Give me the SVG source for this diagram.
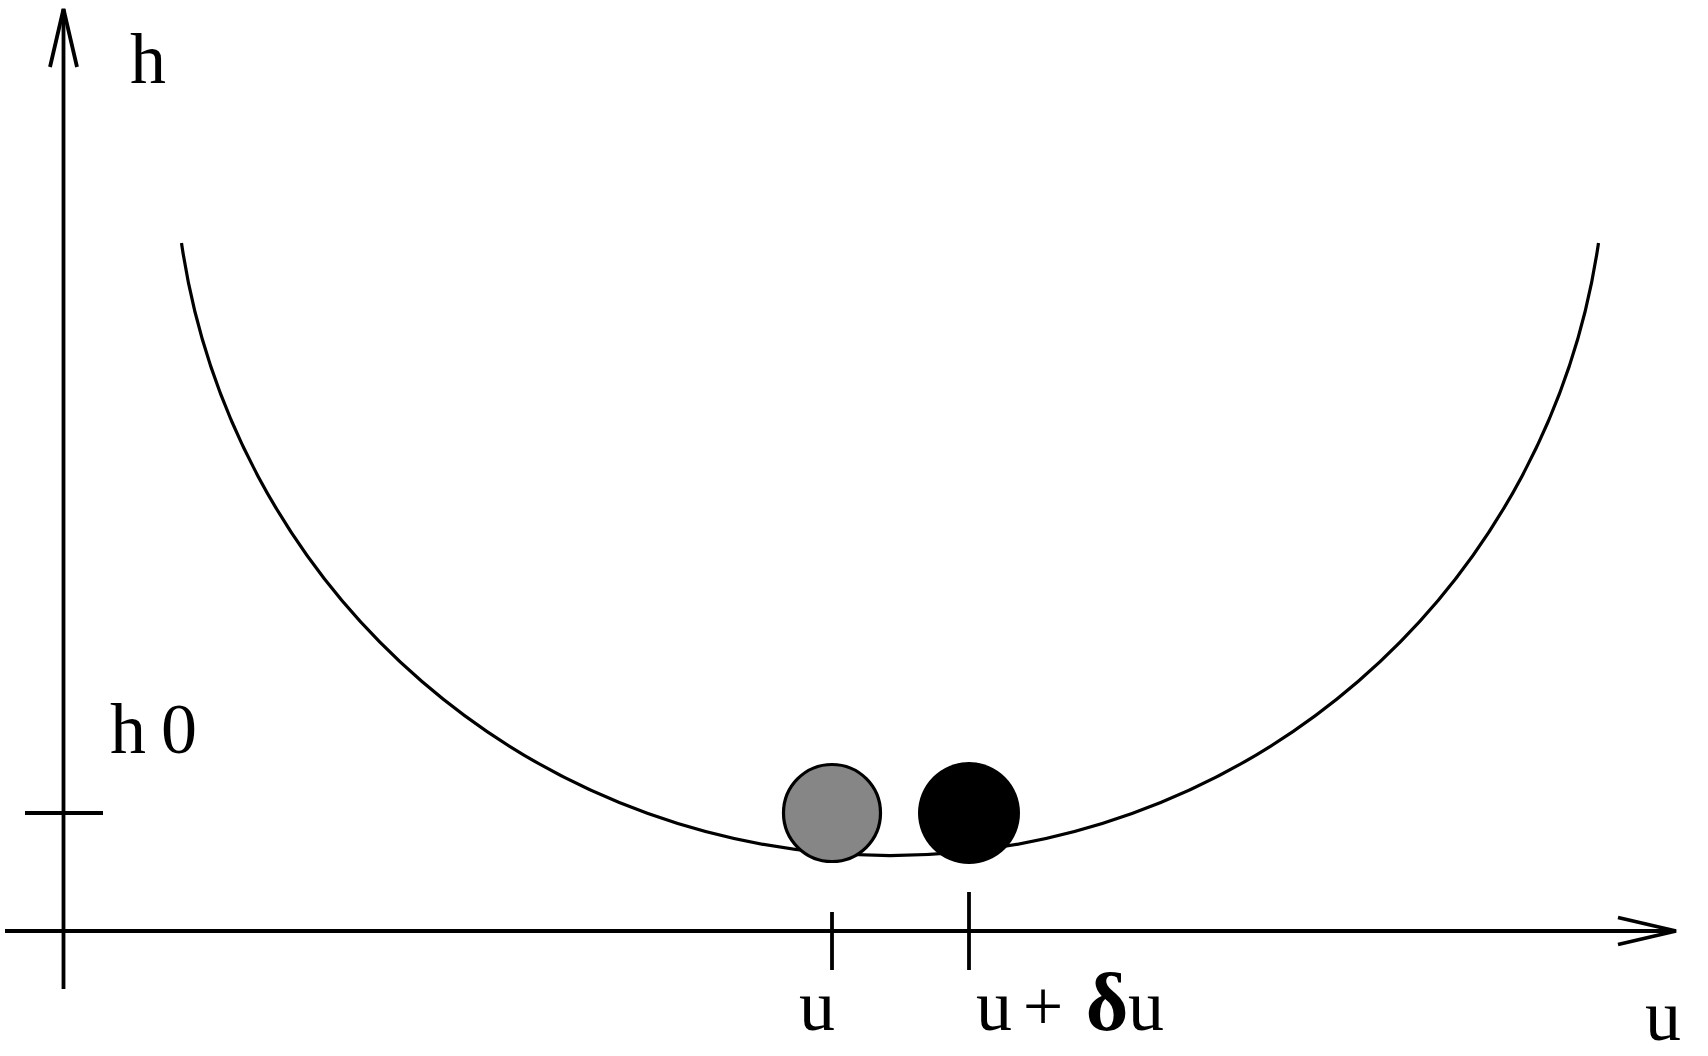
<svg xmlns="http://www.w3.org/2000/svg" width="1708" height="1056" viewBox="0 0 1708 1056">
  <style>
    .ax { stroke: #000; stroke-width: 3.8; fill: none; }
    .crv { stroke: #000; stroke-width: 3.2; fill: none; }
    .lbl { font-family: "Liberation Serif", "DejaVu Serif", serif; font-size: 72px; fill: #000; text-anchor: middle; }
    .dl { font-family: "Liberation Serif", "DejaVu Serif", serif; font-weight: bold; font-size: 82px; }
  </style>
  <defs>
    <marker id="arr" markerUnits="userSpaceOnUse" markerWidth="70" markerHeight="40" refX="0" refY="0" viewBox="-62 -20 70 40" orient="auto" overflow="visible">
      <path d="M -58 -13.5 L 0 0 L -58 13.5" stroke="#000" stroke-width="3.8" fill="none" stroke-linejoin="miter"/>
    </marker>
  </defs>
  <rect width="1708" height="1056" fill="#fff"/>
  <g id="axes">
    <line class="ax" x1="63.5" y1="989" x2="63.5" y2="9" marker-end="url(#arr)"/>
    <line class="ax" x1="5" y1="931" x2="1676" y2="931" marker-end="url(#arr)"/>
    <line class="ax" x1="25" y1="813" x2="103" y2="813"/>
    <line class="ax" x1="832" y1="912" x2="832" y2="970"/>
    <line class="ax" x1="969" y1="892" x2="969" y2="970"/>
  </g>
  <g id="curve">
    <path class="crv" d="M 181.5 243 A 716 716 0 0 0 1598.5 243"/>
  </g>
  <g id="ball-u">
    <circle cx="832" cy="813" r="48.5" fill="#868686" stroke="#000" stroke-width="3.2"/>
  </g>
  <g id="ball-udu">
    <circle cx="969" cy="813" r="51" fill="#000"/>
  </g>
  <g id="labels">
    <text class="lbl" x="148" y="83">h</text>
    <text class="lbl" y="753"><tspan x="128">h</tspan><tspan x="179">0</tspan></text>
    <text class="lbl" x="817" y="1030">u</text>
    <text class="lbl" y="1030"><tspan x="994">u</tspan><tspan x="1043">+</tspan><tspan class="dl" x="1107">δ</tspan><tspan x="1146">u</tspan></text>
    <text class="lbl" x="1663" y="1040">u</text>
  </g>
</svg>
